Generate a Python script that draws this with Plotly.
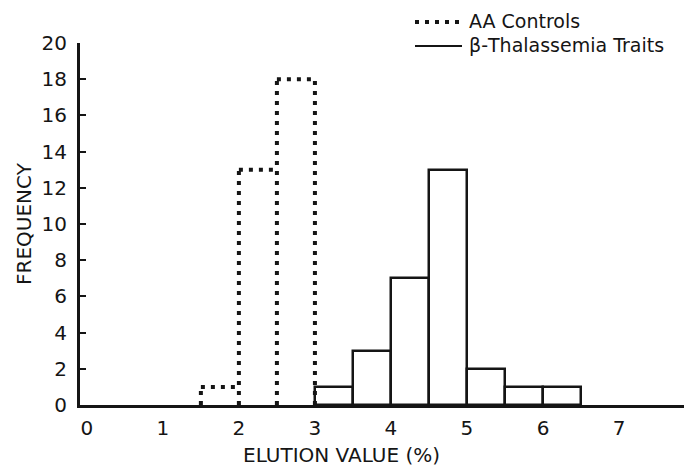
import plotly.graph_objects as go

# ---- data ----
bin_edges_aa = [1.5, 2.0, 2.5, 3.0]
counts_aa = [1, 13, 18]

bin_edges_bt = [3.0, 3.5, 4.0, 4.5, 5.0, 5.5, 6.0, 6.5]
counts_bt = [1, 3, 7, 13, 2, 1, 1]

x_ticks = [0, 1, 2, 3, 4, 5, 6, 7]
y_ticks = [0, 2, 4, 6, 8, 10, 12, 14, 16, 18, 20]

legend_labels = ["AA Controls", "\u03b2-Thalassemia Traits"]
x_title = "ELUTION VALUE (%)"
y_title = "FREQUENCY"

INK = "#151515"
FONT = "DejaVu Sans"

# page body has an 8px margin; positions below are in window pixels
OFF = 8
W, H = 684, 462
ML, MR, MT, MB = 80 - OFF, 0, 43 - OFF, H - (405 - OFF)
PW, PH = W - ML - MR, H - MT - MB


def px_to_paper(px, py):
    fx, fy = px - OFF, py - OFF
    return (fx - ML) / PW, (H - MB - fy) / PH


def outline(edges, counts):
    xs, ys = [], []
    n = len(counts)
    for k, e in enumerate(edges):
        left = counts[k - 1] if k - 1 >= 0 else 0
        right = counts[k] if k < n else 0
        xs += [e, e, None]
        ys += [0, max(left, right), None]
    for k in range(n):
        xs += [edges[k], edges[k + 1], None]
        ys += [counts[k], counts[k], None]
    return xs, ys


fig = go.Figure()

ax, ay = outline(bin_edges_aa, counts_aa)
fig.add_trace(go.Scatter(
    x=ax, y=ay, mode="lines", name=legend_labels[0],
    line=dict(color=INK, width=4, dash="4px,6px"),
    connectgaps=False, showlegend=False, hoverinfo="skip"))

centers = [(bin_edges_bt[i] + bin_edges_bt[i + 1]) / 2 for i in range(len(counts_bt))]
widths = [bin_edges_bt[i + 1] - bin_edges_bt[i] for i in range(len(counts_bt))]
fig.add_trace(go.Bar(
    x=centers, y=counts_bt, width=widths, name=legend_labels[1],
    marker=dict(color="rgba(0,0,0,0)", line=dict(color=INK, width=2.5)),
    showlegend=False))

# legend drawn by hand (line samples + text)
x0, y0 = px_to_paper(415, 22)
x1, _ = px_to_paper(462, 22)
fig.add_shape(type="line", xref="paper", yref="paper", x0=x0, x1=x1, y0=y0, y1=y0,
              line=dict(color=INK, width=4, dash="4px,6px"))
tx, ty = px_to_paper(467, 21)
fig.add_annotation(xref="paper", yref="paper", x=tx, y=ty, text=legend_labels[0],
                   showarrow=False, xanchor="left", yanchor="middle",
                   font=dict(family=FONT, size=19, color=INK))
x0b, y0b = px_to_paper(415, 46)
x1b, _ = px_to_paper(462, 46)
fig.add_shape(type="line", xref="paper", yref="paper", x0=x0b, x1=x1b, y0=y0b, y1=y0b,
              line=dict(color=INK, width=2))
_, ty2 = px_to_paper(467, 45)
fig.add_annotation(xref="paper", yref="paper", x=tx, y=ty2, text=legend_labels[1],
                   showarrow=False, xanchor="left", yanchor="middle",
                   font=dict(family=FONT, size=19, color=INK))

# axis titles
xt, yt = px_to_paper(341, 455)
fig.add_annotation(xref="paper", yref="paper", x=xt, y=yt, text=x_title,
                   showarrow=False, xanchor="center", yanchor="middle",
                   font=dict(family=FONT, size=20, color=INK))
xt2, yt2 = px_to_paper(24, 224)
fig.add_annotation(xref="paper", yref="paper", x=xt2, y=yt2, text=y_title,
                   showarrow=False, xanchor="center", yanchor="middle", textangle=-90,
                   font=dict(family=FONT, size=20, color=INK))

fig.update_xaxes(range=[-0.09, 7.96], tickvals=x_ticks, ticktext=[str(v) for v in x_ticks],
                 showgrid=False, zeroline=False, showline=True, linecolor=INK, linewidth=3,
                 ticks="", ticklabelstandoff=3,
                 tickfont=dict(family=FONT, size=20, color=INK))
fig.update_yaxes(range=[0, 20], tickvals=y_ticks, ticktext=[str(v) for v in y_ticks],
                 showgrid=False, zeroline=False, showline=True, linecolor=INK, linewidth=3,
                 ticks="inside", ticklen=6, tickwidth=2, tickcolor=INK,
                 ticklabelstandoff=6,
                 tickfont=dict(family=FONT, size=20, color=INK))

fig.update_layout(width=W, height=H, margin=dict(l=ML, r=MR, t=MT, b=MB),
                  paper_bgcolor="white", plot_bgcolor="white", bargap=0,
                  font=dict(family=FONT, color=INK))

fig.write_html("out.html")
